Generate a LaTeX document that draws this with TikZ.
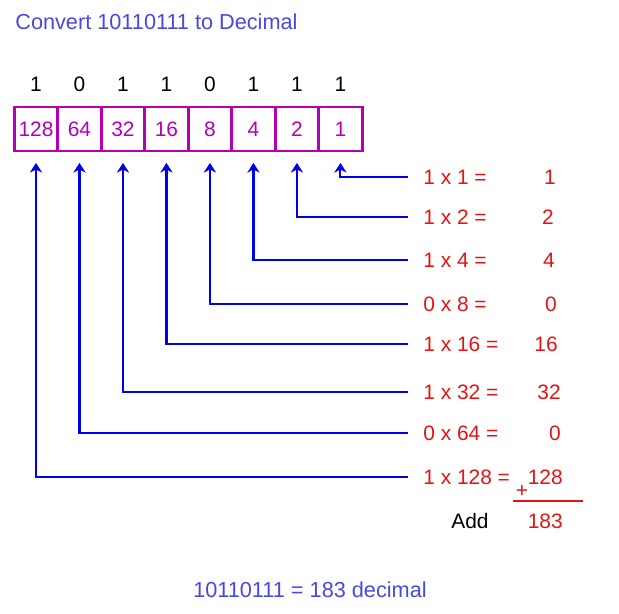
\documentclass[tikz,border=0pt]{standalone}
\usepackage{fontspec}
\setmainfont{Liberation Sans}
\usetikzlibrary{positioning,arrows.meta}
\definecolor{titleblue}{RGB}{72,72,230}
\definecolor{cellmag}{RGB}{180,0,180}
\definecolor{sumred}{RGB}{228,20,20}
\definecolor{wireblue}{RGB}{0,0,235}

\begin{document}
\begin{tikzpicture}[x=0.02cm, y=-0.02cm,
  every node/.style={font=\fontsize{11.9}{14}\selectfont, inner sep=0pt},
  headline/.style={text=titleblue, font=\fontsize{12.35}{14}\selectfont},
  cell/.style={draw=cellmag, line width=1.6pt, text=cellmag, outer sep=0pt,
    minimum width=0.87cm, minimum height=0.88cm},
  wire/.style={draw=wireblue, line width=1.2pt, -{Stealth[length=5.5pt,width=7pt]},
    shorten <=8.5pt, shorten >=6.8pt},
  eqn/.style={text=sumred, anchor=west},
  res/.style={text=sumred, anchor=east}]
  \useasboundingbox (0,0) rectangle (619,614);

  % heading
  \node[headline, anchor=west] (title) at (15,22) {Convert 10110111 to Decimal};

  % place value cells
  \node[cell] (c128) at (36,129) {128};
  \node[cell, right=0pt of c128] (c64) {64};
  \node[cell, right=0pt of c64]  (c32) {32};
  \node[cell, right=0pt of c32]  (c16) {16};
  \node[cell, right=0pt of c16]  (c8)  {8};
  \node[cell, right=0pt of c8]   (c4)  {4};
  \node[cell, right=0pt of c4]   (c2)  {2};
  \node[cell, right=0pt of c2]   (c1)  {1};

  % binary digits
  \node (b128) at (c128 |- 0,84) {1};
  \node (b64)  at (c64 |- 0,84)  {0};
  \node (b32)  at (c32 |- 0,84)  {1};
  \node (b16)  at (c16 |- 0,84)  {1};
  \node (b8)   at (c8 |- 0,84)   {0};
  \node (b4)   at (c4 |- 0,84)   {1};
  \node (b2)   at (c2 |- 0,84)   {1};
  \node (b1)   at (c1 |- 0,84)   {1};

  % products
  \node[eqn] (e1)   at (423,177) {1 x 1 =};
  \node[eqn] (e2)   at (423,217) {1 x 2 =};
  \node[eqn] (e4)   at (423,260) {1 x 4 =};
  \node[eqn] (e8)   at (423,304) {0 x 8 =};
  \node[eqn] (e16)  at (423,344) {1 x 16 =};
  \node[eqn] (e32)  at (423,392) {1 x 32 =};
  \node[eqn] (e64)  at (423,433) {0 x 64 =};
  \node[eqn] (e128) at (423,477) {1 x 128 =};

  \node[res] (r1)   at (556,177) {1};
  \node[res] (r2)   at (554,217) {2};
  \node[res] (r4)   at (555,260) {4};
  \node[res] (r8)   at (557,304) {0};
  \node[res] (r16)  at (558,344) {16};
  \node[res] (r32)  at (561,392) {32};
  \node[res] (r64)  at (561,433) {0};
  \node[res] (r128) at (563,477) {128};

  \draw[wire] (e1.west)   -| (c1.south);
  \draw[wire] (e2.west)   -| (c2.south);
  \draw[wire] (e4.west)   -| (c4.south);
  \draw[wire] (e8.west)   -| (c8.south);
  \draw[wire] (e16.west)  -| (c16.south);
  \draw[wire] (e32.west)  -| (c32.south);
  \draw[wire] (e64.west)  -| (c64.south);
  \draw[wire] (e128.west) -| (c128.south);

  % sum
  \node[text=sumred] (plus) at (522,491) {+};
  \coordinate (sumL) at (513,501);
  \coordinate (sumR) at (583,501);
  \draw[sumred, line width=1.2pt] (sumL) -- (sumR);
  \node (add) at (470,521) {Add};
  \node[res] (total) at (563,521) {183};

  \node[headline] (answer) at (310,590) {10110111 = 183 decimal};
\end{tikzpicture}
\end{document}
